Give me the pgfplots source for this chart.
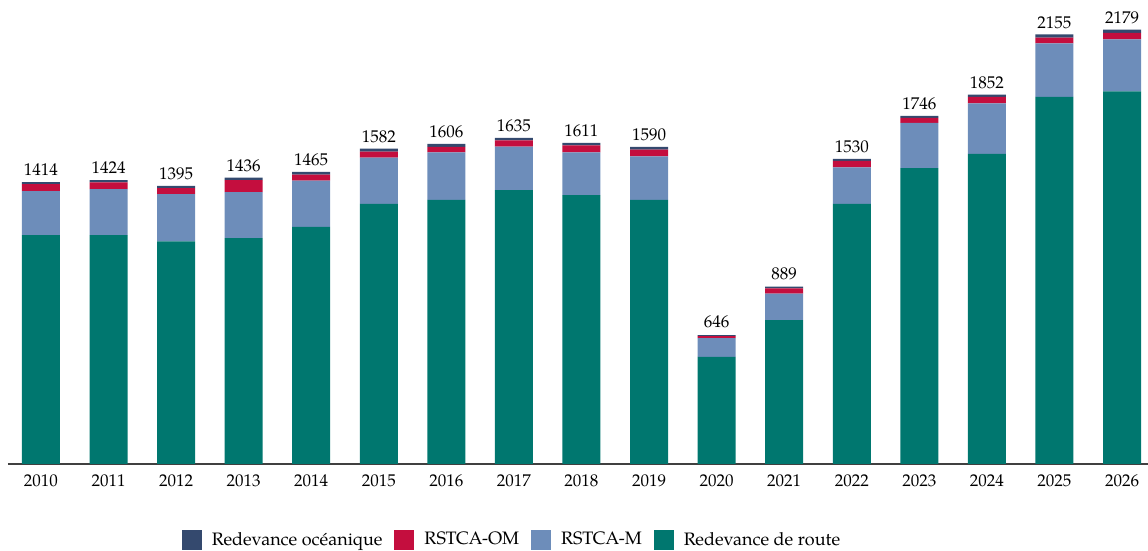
\documentclass[border=0pt]{standalone}
\usepackage{fontspec}
\setmainfont{TeX Gyre Pagella}
\usepackage{pgfplots}
\pgfplotsset{compat=1.18}

\definecolor{cOcean}{HTML}{34496E}
\definecolor{cOM}{HTML}{C40E3E}
\definecolor{cM}{HTML}{6D8DBA}
\definecolor{cRoute}{HTML}{00776F}

\begin{document}
\begin{tikzpicture}
\begin{axis}[
    name=ax,
    scale only axis,
    width=570pt,
    height=232pt,
    ybar stacked,
    bar width=19pt,
    xmin=-0.488, xmax=16.385,
    ymin=0, ymax=2327,
    axis x line*=bottom,
    axis y line=none,
    x axis line style={draw=black!75, line width=0.6pt, -},
    xtick={0,...,16},
    xticklabels={2010,2011,2012,2013,2014,2015,2016,2017,2018,2019,2020,2021,2022,2023,2024,2025,2026},
    xtick style={draw=none},
    xticklabel style={anchor=north, inner sep=0pt, yshift=-5pt},
    ytick=\empty,
    /pgf/number format/assume math mode=true,
    /pgf/number format/1000 sep={},
    font=\fontsize{8.5}{10}\selectfont,
    reverse legend,
    legend columns=4,
    legend style={draw=none, at={(0.443,-0.164)}, anchor=center,
        font=\fontsize{9}{10.5}\selectfont,
        /tikz/every even column/.append style={column sep=4pt}},
    legend image code/.code={\fill[#1] (0pt,-5pt) rectangle (10pt,5pt); \path (13pt,0pt);},
    legend cell align=left,
    clip=false,
]
\addplot[fill=cRoute, draw=none] coordinates {
(0,1148)(1,1148)(2,1117)(3,1133)(4,1189)(5,1305)(6,1325)(7,1374)(8,1349)(9,1325)(10,537)(11,722)(12,1304)(13,1484)(14,1555)(15,1841)(16,1869)};
\addlegendentry{Redevance de route}
\addplot[fill=cM, draw=none] coordinates {
(0,221)(1,231)(2,237)(3,231)(4,232)(5,232)(6,238)(7,217)(8,214)(9,218)(10,94)(11,132)(12,184)(13,227)(14,254)(15,269)(16,261)};
\addlegendentry{RSTCA-M}
\addplot[fill=cOM, draw=none] coordinates {
(0,34)(1,33)(2,30)(3,59)(4,30)(5,30)(6,27)(7,32)(8,35)(9,33)(10,10)(11,27)(12,32)(13,25)(14,32)(15,28)(16,32)};
\addlegendentry{RSTCA-OM}
\addplot[fill=cOcean, draw=none,
    point meta=explicit,
    nodes near coords={\pgfmathprintnumber{\pgfplotspointmeta}},
    nodes near coords style={anchor=south, inner sep=0pt, yshift=3.5pt, text=black}]
coordinates {
(0,11)[1414](1,12)[1424](2,11)[1395](3,13)[1436](4,14)[1465](5,15)[1582](6,16)[1606](7,12)[1635](8,13)[1611](9,14)[1590](10,5)[646](11,8)[889](12,10)[1530](13,10)[1746](14,11)[1852](15,17)[2155](16,17)[2179]};
\addlegendentry{Redevance océanique}
\end{axis}
\pgfresetboundingbox
\path[use as bounding box] ([xshift=-4pt,yshift=-43pt]ax.south west) rectangle (ax.north east);
\end{tikzpicture}
\end{document}
